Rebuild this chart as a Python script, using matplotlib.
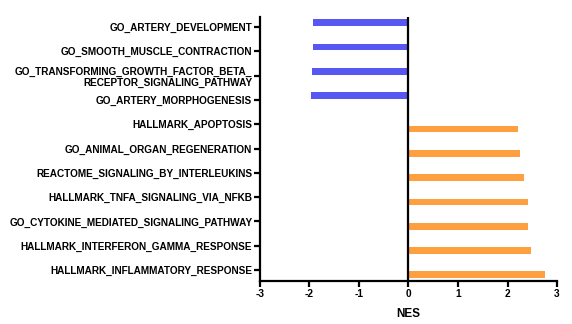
import matplotlib.pyplot as plt
import numpy as np

plt.rcParams['font.family'] = ['Liberation Sans', 'DejaVu Sans']
plt.rcParams['font.weight'] = 'bold'

# pathways, top to bottom
pathways = ['GO_ARTERY_DEVELOPMENT',
            'GO_SMOOTH_MUSCLE_CONTRACTION',
            'GO_TRANSFORMING_GROWTH_FACTOR_BETA_\nRECEPTOR_SIGNALING_PATHWAY',
            'GO_ARTERY_MORPHOGENESIS',
            'HALLMARK_APOPTOSIS',
            'GO_ANIMAL_ORGAN_REGENERATION',
            'REACTOME_SIGNALING_BY_INTERLEUKINS',
            'HALLMARK_TNFA_SIGNALING_VIA_NFKB',
            'GO_CYTOKINE_MEDIATED_SIGNALING_PATHWAY',
            'HALLMARK_INTERFERON_GAMMA_RESPONSE',
            'HALLMARK_INFLAMMATORY_RESPONSE']
# down-regulated (blue) and up-regulated (orange) NES
nes_down = [-1.92, -1.93, -1.95, -1.96, 0, 0, 0, 0, 0, 0, 0]
nes_up = [0, 0, 0, 0, 2.21, 2.25, 2.33, 2.41, 2.41, 2.47, 2.75]
xticks = [-3, -2, -1, 0, 1, 2, 3]

fig, ax = plt.subplots(figsize=(5.72, 3.24), dpi=100)
fig.subplots_adjust(left=0.4545, right=0.9738, bottom=0.133, top=0.948)

y = np.arange(len(pathways))
down = np.array(nes_down)
up = np.array(nes_up)
ax.barh(y[down != 0] - 0.18, down[down != 0], height=0.28, color='#5757F2')
ax.barh(y[up != 0] + 0.2, up[up != 0], height=0.28, color='#FFA040')
ax.axvline(0, color='black', lw=1.6)

ax.set_yticks(y)
ax.set_yticklabels(pathways, fontsize=7.2, fontweight='bold', linespacing=1.1)
ax.set_ylim(10.45, -0.42)
ax.set_xlim(-3, 3)
ax.set_xticks(xticks)
ax.set_xticklabels([str(t) for t in xticks], fontsize=7.3, fontweight='bold')
ax.set_xlabel('NES', fontsize=8.5, fontweight='bold', labelpad=7)

for s in ['top', 'right']:
    ax.spines[s].set_visible(False)
for s in ['left', 'bottom']:
    ax.spines[s].set_linewidth(1.6)
ax.tick_params(axis='both', width=1.6, length=4, pad=1.5)

fig.savefig('out.png', dpi=100)
